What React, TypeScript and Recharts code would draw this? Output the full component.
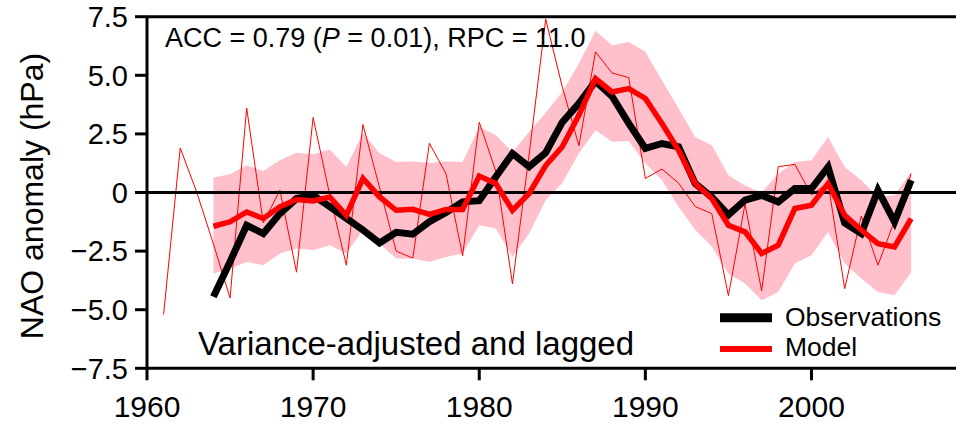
import React from 'react';
import { ComposedChart, Line, Area, XAxis, YAxis, ReferenceLine, Legend } from 'recharts';

const years = [
  1961, 1962, 1963, 1964, 1965, 1966, 1967, 1968, 1969, 1970,
  1971, 1972, 1973, 1974, 1975, 1976, 1977, 1978, 1979, 1980,
  1981, 1982, 1983, 1984, 1985, 1986, 1987, 1988, 1989, 1990,
  1991, 1992, 1993, 1994, 1995, 1996, 1997, 1998, 1999, 2000,
  2001, 2002, 2003, 2004, 2005, 2006,
];

// thin red line, 1961-2006
const modelRaw = [
  -5.2, 1.9, 0.0, -2.2, -4.5, 3.6, -1.3, 0.1, -3.4, 3.2,
  -0.1, -3.1, 2.9, 0.2, -2.5, -2.8, 2.1, 0.8, -2.7, 3.0,
  0.9, -3.9, 1.6, 7.4, 4.5, 2.0, 6.0, 5.1, 4.9, 0.6,
  1.0, 0.4, -0.6, -0.9, -4.4, -0.5, -4.2, 1.1, 1.2, -0.1,
  0.4, -4.1, -1.0, -3.1, -1.2, 0.8,
];

// the rest start in 1964
const observations = [
  -4.45, -2.95, -1.4, -1.75, -0.9, -0.26, -0.12, -0.6, -1.1, -1.6,
  -2.15, -1.7, -1.78, -1.25, -0.85, -0.4, -0.35, 0.67, 1.66, 1.1,
  1.7, 3.0, 3.8, 4.75, 4.1, 2.95, 1.88, 2.09, 1.95, 0.38,
  -0.19, -0.95, -0.33, -0.12, -0.4, 0.17, 0.17, 1.09, -1.3, -1.75,
  0.1, -1.25, 0.52,
];

const model = [
  -1.44, -1.25, -0.83, -1.11, -0.61, -0.3, -0.36, -0.19, -0.97, 0.6,
  -0.19, -0.76, -0.72, -0.93, -0.72, -0.72, 0.7, 0.38, -0.76, -0.04,
  1.15, 1.95, 3.3, 4.86, 4.29, 4.43, 4.01, 2.94, 1.8, 0.38,
  -0.26, -1.4, -1.68, -2.6, -2.25, -0.68, -0.54, 0.38, -0.97, -1.6,
  -2.18, -2.32, -1.11,
];

const bandHigh = [
  0.64, 0.78, 1.16, 0.92, 1.38, 1.7, 1.63, 1.83, 1.09, 2.55,
  1.67, 1.3, 1.32, 1.26, 1.32, 1.3, 2.8, 2.44, 1.73, 2.59,
  3.4, 4.3, 5.5, 6.9, 6.28, 6.42, 6.0, 4.79, 3.58, 2.37,
  2.02, 0.74, 0.3, 0.0, 0.8, 1.3, 1.38, 2.37, 1.09, 0.52,
  -0.19, -0.12, 0.88,
];

const bandLow = [
  -3.46, -3.24, -2.96, -3.1, -2.6, -2.39, -2.46, -2.25, -2.6, -1.6,
  -2.18, -2.82, -2.82, -2.96, -2.75, -2.6, -1.4, -1.54, -2.75, -1.75,
  -0.33, 0.4, 1.67, 2.66, 2.16, 2.2, 1.24, 0.52, -0.61, -1.6,
  -2.3, -3.47, -3.88, -4.6, -4.24, -3.03, -2.68, -1.68, -3.03, -3.67,
  -4.24, -4.38, -3.4,
];

const xTicks = [1960, 1970, 1980, 1990, 2000];
const yTicks = [-7.5, -5, -2.5, 0, 2.5, 5, 7.5];

const FONT = '"Liberation Sans", Arial, Helvetica, sans-serif';
const PINK = '#FFC0CB';

const OFFSET = 3; // model/obs series begin at index 3 (1964)

const data = years.map((year, i) => {
  const j = i - OFFSET;
  const has = j >= 0;
  return {
    year,
    raw: modelRaw[i],
    obs: has ? observations[j] : null,
    model: has ? model[j] : null,
    band: has ? [bandLow[j], bandHigh[j]] : null,
  };
});

const fmtY = (v: number) => (v === 0 ? '0' : v.toFixed(1).replace('-', '\u2212'));

const renderLegend = () => (
  <svg width={240} height={70} style={{ fontFamily: FONT }}>
    <line x1={5} y1={17.7} x2={57} y2={17.7} stroke="#000" strokeWidth={9} />
    <text x={70} y={26} fontSize={26.5} fill="#000">Observations</text>
    <line x1={5} y1={49} x2={57} y2={49} stroke="#ff0000" strokeWidth={6} />
    <text x={70} y={56} fontSize={26.5} fill="#000">Model</text>
  </svg>
);

const App: React.FC = () => {
  return (
    <div style={{ position: 'absolute', left: 0, top: 0, width: 956, height: 426, background: '#fff' }}>
      <ComposedChart
        width={956}
        height={426}
        data={data}
        margin={{ top: 16.7, right: 0, bottom: 0, left: 0 }}
      >
        <XAxis
          dataKey="year"
          type="number"
          domain={[1960, 2008.7]}
          allowDataOverflow
          ticks={xTicks}
          tickSize={12}
          tickMargin={15}
          height={57.7}
          axisLine={{ stroke: '#000', strokeWidth: 3 }}
          tickLine={{ stroke: '#000', strokeWidth: 3 }}
          tick={{ fill: '#000', fontSize: 30, fontFamily: FONT }}
        />
        <YAxis
          type="number"
          domain={[-7.5, 7.5]}
          ticks={yTicks}
          width={147}
          tickSize={12}
          tickMargin={7}
          tickFormatter={fmtY}
          axisLine={{ stroke: '#000', strokeWidth: 3 }}
          tickLine={{ stroke: '#000', strokeWidth: 3 }}
          tick={{ fill: '#000', fontSize: 29, fontFamily: FONT }}
        />
        <Area
          dataKey="band"
          type="linear"
          stroke="none"
          fill={PINK}
          fillOpacity={1}
          isAnimationActive={false}
        />
        <Line
          dataKey="raw"
          type="linear"
          stroke="#ff0000"
          strokeWidth={1}
          dot={false}
          isAnimationActive={false}
        />
        <ReferenceLine y={0} stroke="#000" strokeWidth={3} />
        <ReferenceLine y={7.5} stroke="#000" strokeWidth={3} />
        <Line
          dataKey="obs"
          type="linear"
          stroke="#000"
          strokeWidth={7}
          dot={false}
          isAnimationActive={false}
        />
        <Line
          dataKey="model"
          type="linear"
          stroke="#ff0000"
          strokeWidth={5.5}
          dot={false}
          isAnimationActive={false}
        />
        <Legend
          layout="horizontal"
          verticalAlign="middle"
          align="center"
          content={renderLegend}
          wrapperStyle={{ position: 'absolute', left: 715, top: 300, width: 240, height: 70 }}
        />
      </ComposedChart>
      <svg
        width={956}
        height={426}
        style={{ position: 'absolute', left: 0, top: 0, pointerEvents: 'none', fontFamily: FONT }}
      >
        <text x={165} y={46.5} fontSize={27} fill="#000">
          ACC = 0.79 (<tspan fontStyle="italic">P</tspan> = 0.01), RPC = 11.0
        </text>
        <text x={198} y={355} fontSize={33} fill="#000">Variance-adjusted and lagged</text>
        <text
          x={0}
          y={0}
          fontSize={32}
          fill="#000"
          textAnchor="middle"
          transform="translate(43,196) rotate(-90)"
        >
          NAO anomaly (hPa)
        </text>
      </svg>
    </div>
  );
};

export default App;
